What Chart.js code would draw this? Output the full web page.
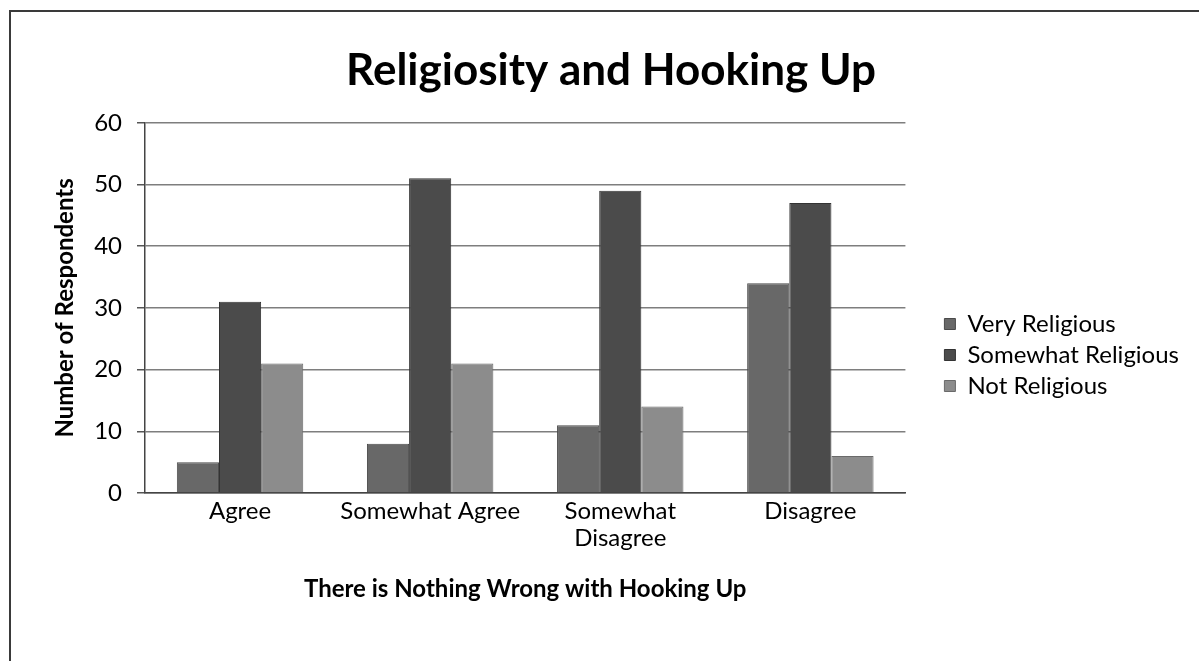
<!DOCTYPE html>
<html>
<head>
  <title>Religiosity and Hooking Up</title>
  <script src="https://cdn.jsdelivr.net/npm/chart.js"></script>
  <style>
    html, body { margin: 0; padding: 0; background: #fff; overflow: hidden; }
    #frame {
      position: absolute; left: 9px; top: 10px;
      width: 1202px; height: 700px;
      border-left: 2px solid #3a3a3a; border-top: 2px solid #3a3a3a;
    }
    #chart { display: block; }
  </style>
</head>
<body>
  <div id="frame">
    <canvas id="chart" width="1200" height="686"></canvas>
  </div>
  <script>
    const categories = ["Agree", "Somewhat Agree", ["Somewhat", "Disagree"], "Disagree"];
    const veryReligious = [5, 8, 11, 34];
    const somewhatReligious = [31, 51, 49, 47];
    const notReligious = [21, 21, 14, 6];
    const yTicks = { min: 0, max: 60, step: 10 };

    const font = "Lato, 'Open Sans', sans-serif";
    const legendGap = 32;   // empty room between plot and legend
    const titleShift = 11;  // title sits centred on the whole frame, not the canvas

    // widen the legend box by legendGap, then draw it shifted right by that much
    const nudge = {
      id: "nudge",
      beforeLayout(chart) {
        const lg = chart.legend;
        if (lg && !lg._wide) {
          const fit = lg.fit;
          lg.fit = function () { fit.call(this); this.width += legendGap; };
          lg._wide = true;
        }
      },
      afterLayout(chart) {
        const lg = chart.legend;
        if (lg) { lg.left += legendGap; lg.right += legendGap; }
        const t = chart.titleBlock;
        if (t) { t.left += titleShift; t.right += titleShift; }
      }
    };

    new Chart(document.getElementById("chart"), {
      type: "bar",
      data: {
        labels: categories,
        datasets: [
          { label: "Very Religious", data: veryReligious, backgroundColor: "#686868", borderColor: "#4a4a4a" },
          { label: "Somewhat Religious", data: somewhatReligious, backgroundColor: "#4b4b4b", borderColor: "#333" },
          { label: "Not Religious", data: notReligious, backgroundColor: "#8c8c8c", borderColor: "#6a6a6a" }
        ]
      },
      options: {
        responsive: false,
        animation: false,
        datasets: {
          bar: { categoryPercentage: 0.665, barPercentage: 1, borderWidth: 1 }
        },
        layout: { padding: { right: 22, bottom: 0 } },
        plugins: {
          title: {
            display: true,
            text: "Religiosity and Hooking Up",
            color: "#000",
            font: { family: font, size: 44, weight: "bold" },
            padding: { top: 32, bottom: 26 }
          },
          legend: {
            position: "right",
            labels: {
              color: "#000",
              font: { family: font, size: 24 },
              boxWidth: 11,
              boxHeight: 11,
              padding: 7
            }
          },
          tooltip: { enabled: false }
        },
        scales: {
          x: {
            grid: { display: false, drawTicks: false },
            border: { color: "#444", width: 1.5 },
            ticks: { color: "#000", font: { family: font, size: 24, lineHeight: 1.15 }, padding: 4, maxRotation: 0, autoSkip: false },
            title: {
              display: true,
              text: "There is Nothing Wrong with Hooking Up",
              color: "#000",
              font: { family: font, size: 24, weight: "bold" },
              padding: { top: 0, bottom: 94 }
            },
            afterFit: s => { s.height = 205; }
          },
          y: {
            min: yTicks.min,
            max: yTicks.max,
            ticks: { stepSize: yTicks.step, color: "#000", font: { family: font, size: 24 }, padding: 15 },
            grid: { color: "#7e7e7e", lineWidth: 1.5, tickLength: 8, tickColor: "#555" },
            border: { color: "#444", width: 1.5 },
            title: {
              display: true,
              text: "Number of Respondents",
              color: "#000",
              font: { family: font, size: 24, weight: "bold" },
              padding: { top: 40, bottom: 0 }
            },
            afterFit: s => { s.width = 134; }
          }
        }
      },
      plugins: [nudge]
    });
  </script>
</body>
</html>
